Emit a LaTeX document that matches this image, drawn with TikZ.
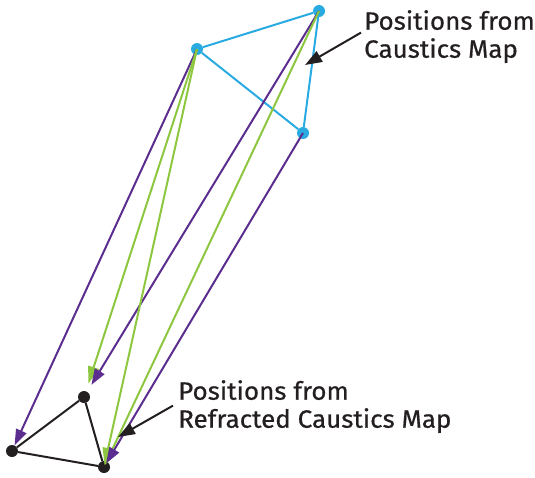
\documentclass[tikz,border=0pt]{standalone}
\usepackage{fontspec}
\setmainfont{Fira Sans}[FakeStretch=1.04,FakeBold=0.6]
\usetikzlibrary{arrows.meta}
\definecolor{cblue}{HTML}{29ABE2}
\definecolor{cpurple}{HTML}{5B2D8E}
\definecolor{cgreen}{HTML}{8DC63F}
\definecolor{cblack}{HTML}{231F20}
\begin{document}
\begin{tikzpicture}[x=1pt,y=-1pt,
  bdot/.style={circle,fill=cblue,inner sep=0pt,minimum size=12pt},
  kdot/.style={circle,fill=cblack,inner sep=0pt,minimum size=12pt},
  bedge/.style={cblue,line width=2pt},
  kedge/.style={cblack,line width=2pt},
  parrow/.style={cpurple,line width=2pt,-{Triangle[length=16pt,width=11pt]}},
  garrow/.style={cgreen,line width=2pt,-{Triangle[length=17pt,width=11pt]}},
  lbl/.style={font=\fontsize{25}{28}\selectfont,align=left,inner sep=0pt,anchor=north west,text=cblack},
  larrow/.style={cblack,line width=2pt,-{Triangle[length=17pt,width=12pt]}}
]
\useasboundingbox (0,0) rectangle (535,477);
\node[bdot] (A) at (197,49) {};
\node[bdot] (B) at (319,11) {};
\node[bdot] (C) at (303,133) {};
\node[kdot] (D) at (84,397) {};
\node[kdot] (E) at (12,451) {};
\node[kdot] (F) at (104,467) {};
\draw[bedge] (A) -- (B) (A) -- (C) (B) -- (C);
\draw[kedge] (D) -- (E) (E) -- (F) (D) -- (F);
\draw[parrow,shorten >=0pt] (A.center) -- (E);
\draw[garrow,shorten >=8pt] (A.center) -- (D);
\draw[parrow,shorten >=8pt] (B.center) -- (D);
\draw[garrow,shorten >=-4pt] (A.center) -- (F);
\draw[garrow,shorten >=-4pt] (B.center) -- (F);
\draw[parrow,shorten >=-2pt] (C.center) -- (F);
\node[lbl] (L1) at (364,10) {Positions from\\Caustics Map};
\node[lbl] (L2) at (178,380) {Positions from\\Refracted Caustics Map};
\coordinate (t1) at (305,65);
\coordinate (t2) at (118,437);
\draw[larrow] (L1.west) ++(-3,-4) coordinate (s1) -- (t1);
\draw[larrow] (L2.west) ++(-5,-1) coordinate (s2) -- (t2);
\end{tikzpicture}
\end{document}
